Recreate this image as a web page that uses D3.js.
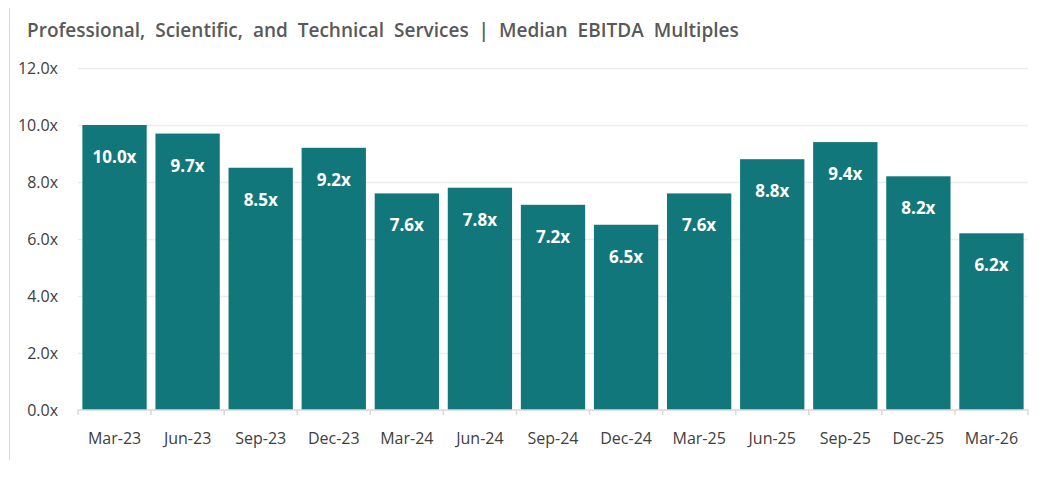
<!DOCTYPE html>
<html>
<head>
<meta charset="utf-8">
<script src="https://cdn.jsdelivr.net/npm/d3@7"></script>
<style>
  body { margin: 0; background: #fff; }
  svg text { font-family: "Open Sans", sans-serif; }
</style>
</head>
<body>
<div id="chart"></div>
<script>
// Data
const quarters = ['Mar-23', 'Jun-23', 'Sep-23', 'Dec-23', 'Mar-24', 'Jun-24', 'Sep-24',
                  'Dec-24', 'Mar-25', 'Jun-25', 'Sep-25', 'Dec-25', 'Mar-26'];
const multiples = [10.0, 9.7, 8.5, 9.2, 7.6, 7.8, 7.2, 6.5, 7.6, 8.8, 9.4, 8.2, 6.2];
const yTicks = [0, 2, 4, 6, 8, 10, 12];

const width = 1050, height = 483;
const margin = { top: 68, right: 22, bottom: 73, left: 78 };

const svg = d3.select('#chart').append('svg')
    .attr('width', width)
    .attr('height', height);

// thin frame line on the left
svg.append('line')
    .attr('x1', 9.5).attr('x2', 9.5)
    .attr('y1', 8).attr('y2', 460)
    .attr('stroke', '#d9d9d9');

// title
svg.append('text')
    .attr('x', 27)
    .attr('y', 37)
    .attr('fill', '#595959')
    .style('font-size', '19px')
    .style('font-weight', 600)
    .style('word-spacing', '5px')
    .text('Professional, Scientific, and Technical Services  | Median EBITDA Multiples');

const x = d3.scaleBand()
    .domain(quarters)
    .range([margin.left, width - margin.right])
    .paddingInner(0.12)
    .paddingOuter(0.06);

const y = d3.scaleLinear()
    .domain([0, 12])
    .range([height - margin.bottom, margin.top]);

// gridlines
svg.append('g')
    .selectAll('line')
    .data(yTicks.filter(d => d > 0))
    .enter().append('line')
    .attr('x1', margin.left)
    .attr('x2', width - margin.right)
    .attr('y1', d => y(d) + 0.5)
    .attr('y2', d => y(d) + 0.5)
    .attr('stroke', '#ececec')
    .attr('stroke-width', 1.5);

// y axis labels
const yAxis = svg.append('g')
    .attr('transform', `translate(${margin.left - 17},0)`)
    .call(d3.axisLeft(y).tickValues(yTicks).tickSize(0).tickFormat(d => d3.format('.1f')(d) + 'x'));
yAxis.select('.domain').remove();
yAxis.attr('font-family', null).attr('font-size', null);
yAxis.selectAll('text')
    .attr('fill', '#404040')
    .style('font-size', '16px');

// bars
svg.append('g')
    .selectAll('rect')
    .data(multiples)
    .enter().append('rect')
    .attr('x', (d, i) => x(quarters[i]))
    .attr('y', d => y(d))
    .attr('width', x.bandwidth())
    .attr('height', d => y(0) - y(d))
    .attr('fill', '#12777a');

// value labels inside bars
svg.append('g')
    .selectAll('text')
    .data(multiples)
    .enter().append('text')
    .attr('x', (d, i) => x(quarters[i]) + x.bandwidth() / 2)
    .attr('y', d => y(d) + 38)
    .attr('text-anchor', 'middle')
    .attr('fill', '#fff')
    .style('font-size', '17px')
    .style('font-weight', 700)
    .text(d => d3.format('.1f')(d) + 'x');

// x axis
const xAxis = svg.append('g')
    .attr('transform', `translate(0,${y(0)})`)
    .call(d3.axisBottom(x).tickSize(0).tickPadding(23));
xAxis.attr('font-family', null).attr('font-size', null);
xAxis.select('.domain')
    .attr('stroke', '#d9d9d9')
    .attr('stroke-width', 1.5)
    .attr('d', `M${margin.left},5V0H${width - margin.right}V5`);
xAxis.selectAll('text')
    .attr('fill', '#404040')
    .style('font-size', '16px');

// tick marks between categories
const step = x.step();
svg.append('g')
    .selectAll('line')
    .data(quarters.slice(1))
    .enter().append('line')
    .attr('x1', d => x(d) - step * x.paddingInner() / 2)
    .attr('x2', d => x(d) - step * x.paddingInner() / 2)
    .attr('y1', y(0))
    .attr('y2', y(0) + 5)
    .attr('stroke', '#d9d9d9')
    .attr('stroke-width', 1.5);
</script>
</body>
</html>
